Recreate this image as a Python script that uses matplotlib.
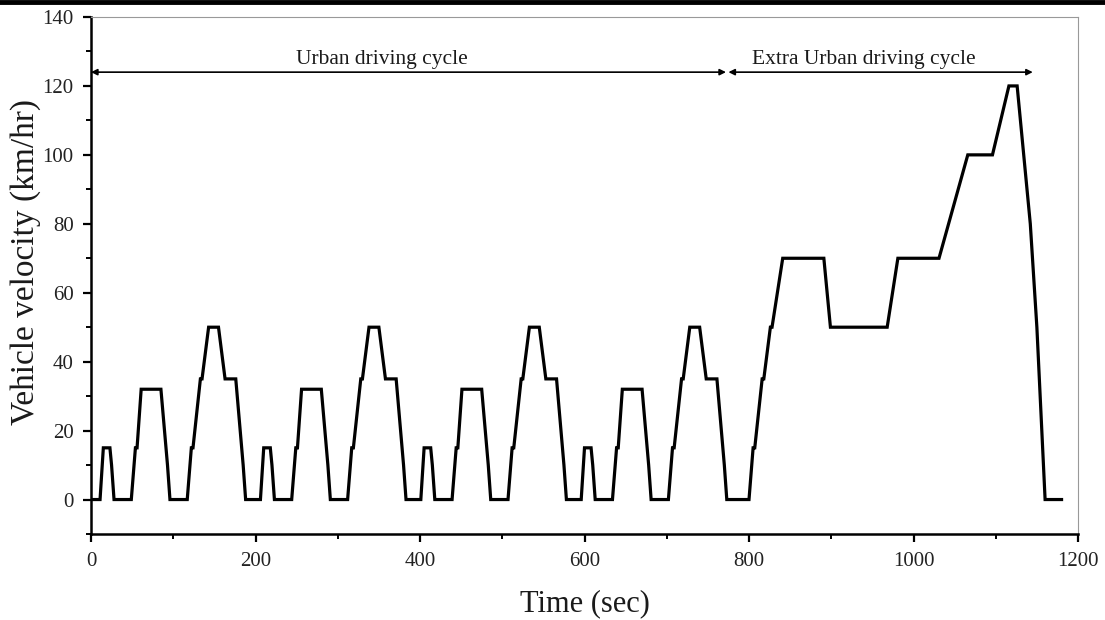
import matplotlib
matplotlib.use("Agg")
import matplotlib.pyplot as plt
from matplotlib.ticker import MultipleLocator
from matplotlib.lines import Line2D

# NEDC speed profile: breakpoints (s, km/h) for four ECE-15 urban cycles + EUDC
time_s = [
    0, 11, 15, 23, 25, 28, 49, 54, 56, 61, 85, 93, 96, 117, 122, 124, 133, 135, 143, 155, 163, 176, 185, 188,
    206, 210, 218, 220, 223, 244, 249, 251, 256, 280, 288, 291, 312, 317, 319, 328, 330, 338, 350, 358, 371, 380, 383,
    401, 405, 413, 415, 418, 439, 444, 446, 451, 475, 483, 486, 507, 512, 514, 523, 525, 533, 545, 553, 566, 575, 578,
    596, 600, 608, 610, 613, 634, 639, 641, 646, 670, 678, 681, 702, 707, 709, 718, 720, 728, 740, 748, 761, 770, 773,
    800, 805, 807, 816, 818, 826, 828, 841, 891, 899, 968, 981, 1031, 1066, 1096, 1116, 1126, 1142, 1150, 1160, 1180,
]
speed_kmh = [
    0, 0, 15, 15, 10, 0, 0, 15, 15, 32, 32, 10, 0, 0, 15, 15, 35, 35, 50, 50, 35, 35, 10, 0,
    0, 15, 15, 10, 0, 0, 15, 15, 32, 32, 10, 0, 0, 15, 15, 35, 35, 50, 50, 35, 35, 10, 0,
    0, 15, 15, 10, 0, 0, 15, 15, 32, 32, 10, 0, 0, 15, 15, 35, 35, 50, 50, 35, 35, 10, 0,
    0, 15, 15, 10, 0, 0, 15, 15, 32, 32, 10, 0, 0, 15, 15, 35, 35, 50, 50, 35, 35, 10, 0,
    0, 15, 15, 35, 35, 50, 50, 70, 70, 50, 50, 70, 70, 100, 100, 120, 120, 80, 50, 0, 0,
]

# phase annotations: label, arrow span and label position
phase_labels = ["Urban driving cycle", "Extra Urban driving cycle"]
phase_start = [0, 775]
phase_end = [772, 1145]
phase_label_x = [354, 940]
arrow_level = 124

plt.rcParams["font.family"] = ["Liberation Serif", "DejaVu Serif"]

fig = plt.figure(figsize=(11.05, 6.2), dpi=100)
ax = fig.add_axes([91 / 1105, 1 - 534 / 620, 987 / 1105, 517 / 620])

ax.plot(time_s, speed_kmh, color="black", lw=2.3, solid_joinstyle="miter")

for lab, s, e, lx in zip(phase_labels, phase_start, phase_end, phase_label_x):
    ax.annotate("", xy=(e, arrow_level), xytext=(s, arrow_level),
                arrowprops=dict(arrowstyle="<|-|>", color="black", lw=1.2,
                                mutation_scale=9, shrinkA=0, shrinkB=0))
    ax.text(lx, arrow_level + 0.9, lab, ha="center", va="bottom", fontsize=15.5, color="#1a1a1a")

ax.set_xlim(0, 1200)
ax.set_ylim(-10, 140)
ax.xaxis.set_major_locator(MultipleLocator(200))
ax.xaxis.set_minor_locator(MultipleLocator(100))
ax.yaxis.set_major_locator(MultipleLocator(20))
ax.yaxis.set_minor_locator(MultipleLocator(10))

for side in ("left", "bottom"):
    ax.spines[side].set_linewidth(1.8)
    ax.spines[side].set_color("black")
for side in ("top", "right"):
    ax.spines[side].set_linewidth(0.8)
    ax.spines[side].set_color("#999999")

ax.tick_params(which="major", direction="out", length=6, width=1.6, labelsize=15,
               color="black", labelcolor="#222222")
ax.tick_params(which="minor", direction="out", length=3.5, width=1.4)
ax.tick_params(axis="x", which="major", pad=7)
ax.tick_params(axis="y", which="major", pad=6.5)
ax.tick_params(top=False, right=False, which="both")

ax.set_xlabel("Time (sec)", fontsize=22, color="#1a1a1a")
ax.xaxis.set_label_coords(0.5, -0.106)
ax.set_ylabel("Vehicle velocity (km/hr)", fontsize=24, color="#1a1a1a")
ax.yaxis.set_label_coords(-0.051, 0.526)

# heavy rule across the top of the figure
fig.add_artist(Line2D([0, 1], [1 - 2 / 620, 1 - 2 / 620], transform=fig.transFigure,
                      color="black", lw=3.5))

fig.savefig("out.png", dpi=100)
